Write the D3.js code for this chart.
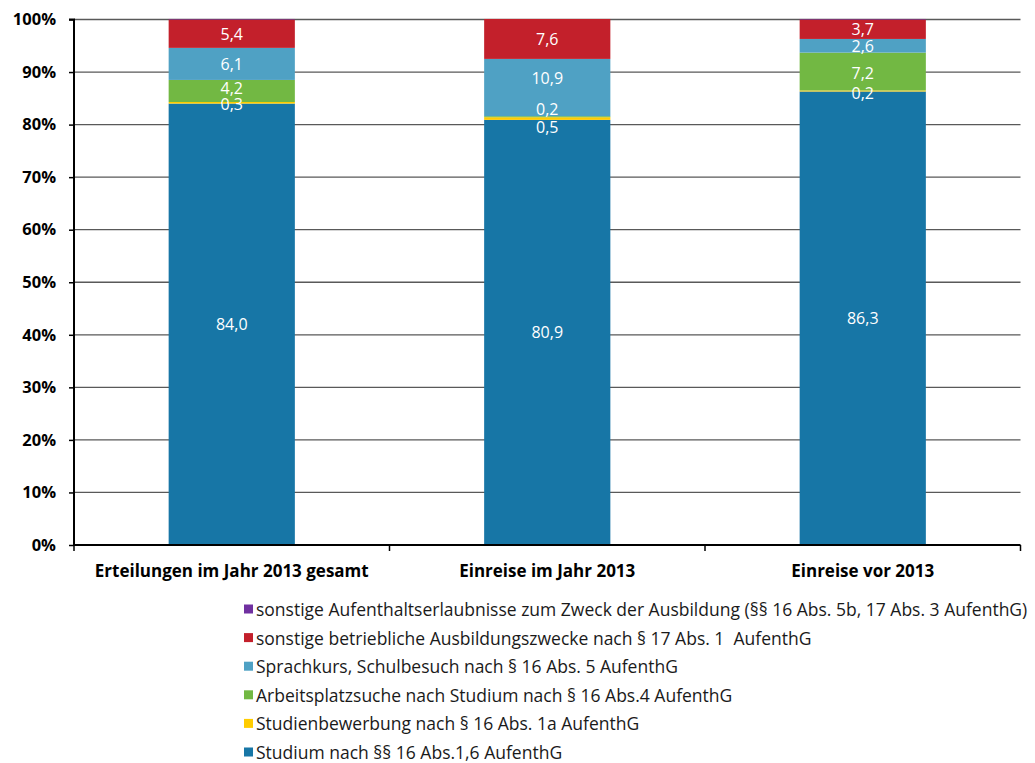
<!DOCTYPE html>
<html><head><meta charset="utf-8">
<script src="https://cdn.jsdelivr.net/npm/d3@7"></script>
<style>
html,body{margin:0;padding:0;background:#fff;}
svg{display:block;}
text{font-family:"Open Sans","Noto Sans",sans-serif;white-space:pre;}
</style></head>
<body>
<svg id="chart" width="1035" height="763"></svg>
<script>
const categories = ["Erteilungen im Jahr 2013 gesamt", "Einreise im Jahr 2013", "Einreise vor 2013"];
const seriesNames = [
  "Studium nach §§ 16 Abs.1,6 AufenthG",
  "Studienbewerbung nach § 16 Abs. 1a AufenthG",
  "Arbeitsplatzsuche nach Studium nach § 16 Abs.4 AufenthG",
  "Sprachkurs, Schulbesuch nach § 16 Abs. 5 AufenthG",
  "sonstige betriebliche Ausbildungszwecke nach § 17 Abs. 1  AufenthG",
  "sonstige Aufenthaltserlaubnisse zum Zweck der Ausbildung (§§ 16 Abs. 5b, 17 Abs. 3 AufenthG)"
];
const studium = [84.0, 80.9, 86.3];
const studienbewerbung = [0.3, 0.5, 0.2];
const arbeitsplatzsuche = [4.2, 0.2, 7.2];
const sprachkurs = [6.1, 10.9, 2.6];
const betrieblich = [5.4, 7.6, 3.7];
const sonstige = [0.1, 0.0, 0.1];
const showLabel = [true, true, true, true, true, false];
const yTicks = [0, 10, 20, 30, 40, 50, 60, 70, 80, 90, 100];

const colors = ["#1776a6", "#ffcc00", "#72b843", "#4fa1c4", "#c3202b", "#7030a0"];
// manual label nudges (px) to avoid overlaps, as in the original
const labelNudge = {"0|2": -3, "0|1": 1.5, "1|3": -10, "1|2": -8, "1|1": 8.5, "2|1": 2.5, "2|2": 1};

const seriesValues = [studium, studienbewerbung, arbeitsplatzsuche, sprachkurs, betrieblich, sonstige];
const rows = categories.map((c, i) => {
  const r = {cat: c};
  seriesNames.forEach((s, j) => r[s] = seriesValues[j][i]);
  return r;
});
const stack = d3.stack().keys(seriesNames)(rows);

const svg = d3.select("#chart");
const m = {left: 74, right: 1020.5, top: 19.5, bottom: 545};
const x = d3.scaleBand().domain(categories).range([m.left, m.right]).padding(0);
const y = d3.scaleLinear().domain([0, 100]).range([m.bottom, m.top]);
const barW = x.bandwidth() * 0.4;

// gridlines
svg.append("g").selectAll("line").data(yTicks.filter(t => t > 0)).join("line")
  .attr("x1", m.left).attr("x2", m.right)
  .attr("y1", d => y(d)).attr("y2", d => y(d))
  .attr("stroke", "#595959").attr("stroke-width", 1.3);

// bars
const g = svg.append("g");
stack.forEach((layer, j) => {
  g.append("g").selectAll("rect").data(layer).join("rect")
    .attr("x", d => x(d.data.cat) + (x.bandwidth() - barW) / 2)
    .attr("width", barW)
    .attr("y", d => y(d[1]))
    .attr("height", d => Math.max(0, y(d[0]) - y(d[1])))
    .attr("fill", colors[j]);
});

// labels
stack.forEach((layer, j) => {
  if (!showLabel[j]) return;
  g.append("g").selectAll("text").data(layer).join("text")
    .attr("x", d => x(d.data.cat) + x.bandwidth() / 2)
    .attr("y", (d, i) => (y(d[0]) + y(d[1])) / 2 + (labelNudge[i + "|" + j] || 0))
    .attr("text-anchor", "middle").attr("dominant-baseline", "central")
    .attr("fill", "#fff").attr("font-size", 16)
    .text(d => d3.format(".1f")(d[1] - d[0]).replace(".", ","));
});

// y axis
const yAxis = d3.axisLeft(y).tickValues(yTicks).tickFormat(d => d + "%").tickSize(5).tickPadding(13);
const ya = svg.append("g").attr("transform", `translate(${m.left},0)`).call(yAxis);
ya.select(".domain").attr("stroke", "#000").attr("stroke-width", 2).attr("d", `M-5,${m.top}H0V${m.bottom}`);
ya.selectAll(".tick line").attr("stroke", "#000").attr("stroke-width", 1.5);
ya.selectAll(".tick text").attr("font-size", 16.5).attr("font-weight", "bold").attr("fill", "#000")
  .style("font-family", '"Open Sans",sans-serif');

// x axis
const xa = svg.append("g").attr("transform", `translate(0,${m.bottom})`);
xa.append("line").attr("x1", m.left - 1).attr("x2", m.right).attr("y1", 0).attr("y2", 0)
  .attr("stroke", "#000").attr("stroke-width", 2.2);
const bounds = categories.map(c => x(c)).concat([m.right]);
xa.selectAll("line.tk").data(bounds).join("line").attr("class", "tk")
  .attr("x1", d => d).attr("x2", d => d).attr("y1", 0).attr("y2", 6)
  .attr("stroke", "#000").attr("stroke-width", 1.5);
xa.selectAll("text").data(categories).join("text")
  .attr("x", d => x(d) + x.bandwidth() / 2).attr("y", 25)
  .attr("text-anchor", "middle").attr("dominant-baseline", "central")
  .attr("font-size", 17).attr("font-weight", "bold").attr("fill", "#000")
  .text(d => d);

// legend
const legendOrder = seriesNames.map((s, j) => j).reverse();
const lg = svg.append("g");
legendOrder.forEach((j, k) => {
  const cy = 609 + k * 28.6;
  lg.append("rect").attr("x", 244).attr("y", cy - 4.5).attr("width", 9).attr("height", 9).attr("fill", colors[j]);
  lg.append("text").attr("x", 256).attr("y", cy).attr("dominant-baseline", "central")
    .attr("font-size", 17.5).attr("fill", "#1a1a1a").text(seriesNames[j]);
});
</script>
</body></html>
